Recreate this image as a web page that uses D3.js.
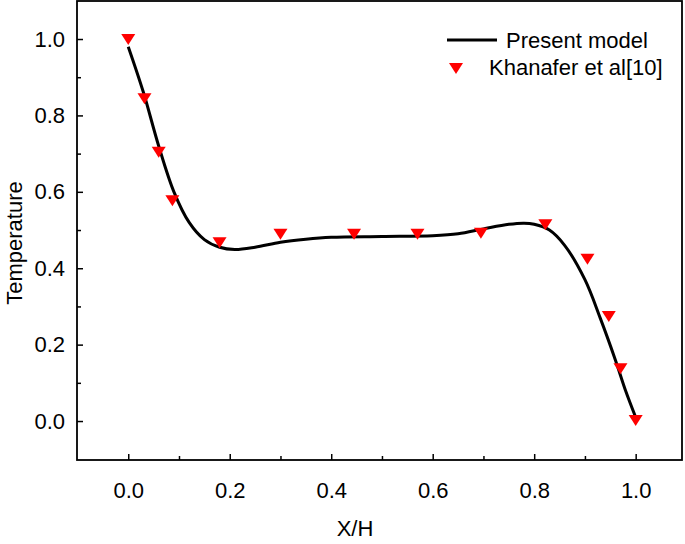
<!DOCTYPE html><html><head><script src="https://cdn.jsdelivr.net/npm/d3@7"></script>
<style>body{margin:0;background:#fff}text{font-family:"Liberation Sans",Arial,sans-serif}</style></head><body>
<svg id="c" width="685" height="544"></svg>
<script>
const curveX=[0,0.03,0.06,0.09,0.12,0.15,0.18,0.21,0.25,0.3,0.35,0.4,0.5,0.6,0.65,0.7,0.75,0.78,0.8,0.83,0.86,0.9,0.93,0.96,0.98,1.0];
const curveY=[0.98,0.86,0.72,0.6,0.52,0.475,0.455,0.449,0.455,0.468,0.476,0.481,0.483,0.485,0.49,0.503,0.515,0.518,0.515,0.5,0.46,0.37,0.27,0.16,0.08,0.01];
const markX=[0,0.032,0.06,0.087,0.18,0.30,0.445,0.57,0.695,0.822,0.905,0.947,0.97,1.0];
const markY=[1.0,0.845,0.705,0.578,0.468,0.49,0.49,0.49,0.493,0.515,0.425,0.275,0.138,0.003];
const xTicks=[0,0.2,0.4,0.6,0.8,1.0], yTicks=[0,0.2,0.4,0.6,0.8,1.0];
const FS=22;
const svg=d3.select("#c");
const L=77,R=682,T=1,B=460;
const x=d3.scaleLinear().domain([-0.101,1.0913]).range([L,R]);
const y=d3.scaleLinear().domain([-0.102,1.0995]).range([B,T]);
const xa=svg.append("g").attr("transform",`translate(0,${B})`).call(d3.axisBottom(x).tickValues(d3.range(0,1.01,0.1)).tickSize(6).tickFormat(d=>xTicks.some(t=>Math.abs(t-d)<1e-6)?d.toFixed(1):""));
const ya=svg.append("g").attr("transform",`translate(${L},0)`).call(d3.axisLeft(y).tickValues(d3.range(0,1.01,0.1)).tickSize(6).tickFormat(d=>yTicks.some(t=>Math.abs(t-d)<1e-6)?d.toFixed(1):""));
[xa,ya].forEach(a=>{a.select(".domain").remove();a.selectAll("line").attr("stroke-width",1.5);a.selectAll("text").attr("font-size",FS).attr("fill","#000");});
xa.selectAll(".tick line").attr("y2",-6);
ya.selectAll(".tick line").attr("x2",6);
xa.selectAll(".tick").filter((d,i)=>i%2).select("line").attr("y2",-4);
ya.selectAll(".tick").filter((d,i)=>i%2).select("line").attr("x2",4);
xa.selectAll("text").attr("y",22).attr("dy","0.71em");
ya.selectAll("text").attr("x",-12);
svg.append("rect").attr("x",L).attr("y",T).attr("width",R-L).attr("height",B-T).attr("fill","none").attr("stroke","#000").attr("stroke-width",1.8);
const pts=curveX.map((d,i)=>[x(d),y(curveY[i])]);
svg.append("path").attr("d",d3.line().curve(d3.curveCatmullRom)(pts)).attr("fill","none").attr("stroke","#000").attr("stroke-width",3);
const tri="M-7,-5L7,-5L0,6Z";
svg.selectAll(".m").data(markX).join("path").attr("d",tri).attr("fill","#f00")
 .attr("transform",(d,i)=>`translate(${x(d)},${y(markY[i])})`);
svg.append("line").attr("x1",447).attr("x2",497).attr("y1",40).attr("y2",40).attr("stroke","#000").attr("stroke-width",3);
svg.append("text").attr("x",506).attr("y",48).attr("font-size",FS).text("Present model");
svg.append("path").attr("d",tri).attr("fill","#f00").attr("transform","translate(456,68)");
svg.append("text").attr("x",489).attr("y",75).attr("font-size",FS).text("Khanafer et al[10]");
svg.append("text").attr("x",355).attr("y",536).attr("font-size",FS).attr("text-anchor","middle").text("X/H");
svg.append("text").attr("transform","translate(22,243) rotate(-90)").attr("font-size",FS).attr("text-anchor","middle").text("Temperature");
</script></body></html>
